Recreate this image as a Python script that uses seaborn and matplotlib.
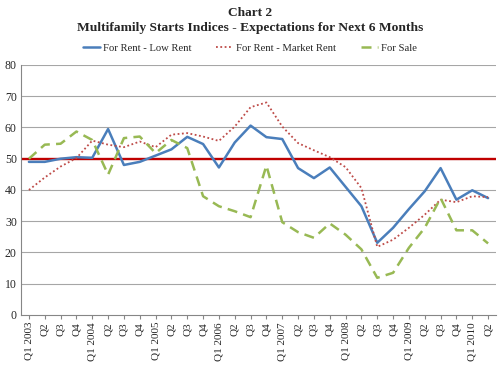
import matplotlib
matplotlib.use("Agg")
import matplotlib.pyplot as plt
import seaborn as sns
import pandas as pd
from matplotlib.lines import Line2D

quarters = []
for yr in range(2003, 2011):
    for q in ["Q1", "Q2", "Q3", "Q4"]:
        quarters.append(f"Q1 {yr}" if q == "Q1" else q)
quarters = quarters[:30]

low_rent = [49, 49, 50, 50.5, 50.3, 59.5, 48, 49, 51, 53, 57, 54.7, 47.2, 55.2, 60.6,
            56.9, 56.3, 47, 43.8, 47.2, 41, 34.8, 23.1, 27.9, 33.9, 39.6, 47, 36.9, 39.9, 37.4]
market_rent = [40, 44, 47.5, 50.2, 55.8, 54.5, 53.7, 55.5, 53.7, 57.7, 58.2, 57.1, 55.7, 60.3, 66.5,
               68, 60.3, 55, 52.7, 50.5, 47.3, 40.6, 21.8, 24.1, 27.9, 32.1, 36.9, 36.1, 38, 37.7]
for_sale = [50, 54.5, 54.8, 58.7, 56, 44.9, 56.6, 57.1, 51.8, 56, 53.4, 38, 34.8, 33.2, 31.3,
            47.8, 29.7, 26.5, 24.7, 29.3, 25.7, 21, 11.9, 13.5, 21.5, 27.9, 37.4, 27.1, 27.1, 22.9]

series_names = ["For Rent - Low Rent", "For Rent - Market Rent", "For Sale"]
colors = ["#4A7EBB", "#BE4B48", "#98B954"]
widths = [1.8, 1.3, 1.8]
styles = ["-", (0, (1, 1.4)), (0, (4, 2.5))]

df = pd.DataFrame({"pos": range(len(quarters)),
                   series_names[0]: low_rent,
                   series_names[1]: market_rent,
                   series_names[2]: for_sale})
long_df = df.melt(id_vars="pos", var_name="Series", value_name="Index")

sns.set_style("white")
plt.rcParams["font.family"] = ["Liberation Serif", "DejaVu Serif"]

fig = plt.figure(figsize=(5, 3.65), dpi=100)
ax = fig.add_axes([0.042, 0.137, 0.95, 0.685])

for y in range(10, 90, 10):
    ax.axhline(y, color="#A6A6A6", lw=0.8, zorder=0)
ax.axhline(50, color="#C00000", lw=1.7, zorder=1)

sns.lineplot(data=long_df, x="pos", y="Index", hue="Series",
             palette=colors, ax=ax, legend=False, zorder=3)

# line style per series
for line, ls, lw in zip(ax.get_lines()[-3:], styles, widths):
    line.set_linestyle(ls)
    line.set_linewidth(lw)

ax.set_xlim(-0.5, len(quarters) - 0.5)
ax.set_ylim(0, 80)
ax.set_yticks(range(0, 90, 10))
ax.set_xticks(range(len(quarters)))
ax.set_xticklabels(quarters, rotation=90, fontsize=8)
ax.tick_params(axis="y", labelsize=8.5, length=0, pad=3)
ax.tick_params(axis="x", length=3, color="#868686", pad=2, bottom=True)
ax.set_xlabel("")
ax.set_ylabel("")
for s in ["top", "right"]:
    ax.spines[s].set_visible(False)
for s in ["left", "bottom"]:
    ax.spines[s].set_color("#868686")
    ax.spines[s].set_linewidth(0.8)

handles = [Line2D([], [], color=c, lw=w, ls=ls) for c, w, ls in zip(colors, widths, styles)]
fig.legend(handles, series_names, loc="center", bbox_to_anchor=(0.5, 0.868), ncol=3,
           frameon=False, fontsize=7.7, handlelength=1.6, handletextpad=0.3, columnspacing=2.3)

fig.text(0.5, 0.965, "Chart 2", ha="center", va="center", fontsize=9.6, fontweight="bold")
fig.text(0.5, 0.923, "Multifamily Starts Indices - Expectations for Next 6 Months",
         ha="center", va="center", fontsize=9.7, fontweight="bold")

fig.savefig("out.png", dpi=100)
